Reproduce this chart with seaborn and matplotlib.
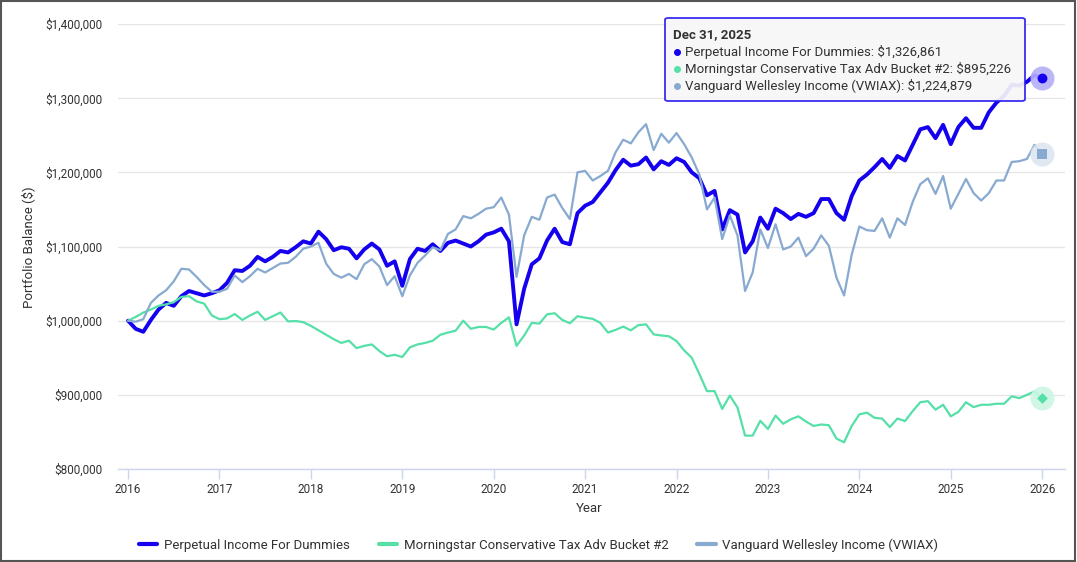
import matplotlib
matplotlib.use("Agg")
import matplotlib.pyplot as plt
from matplotlib.lines import Line2D
from matplotlib.patches import FancyBboxPatch, Rectangle
from matplotlib.ticker import FuncFormatter
import seaborn as sns
import numpy as np
import pandas as pd

# month-end balances in thousands of dollars, Dec 2015 .. Dec 2025
perpetual = [
    1000, 989, 985, 1001, 1015, 1024, 1020, 1033, 1040, 1037, 1034, 1037,
    1041, 1051, 1068, 1067, 1074, 1086, 1080, 1086, 1094, 1092, 1099, 1107,
    1104, 1120, 1110, 1095, 1099, 1097, 1084, 1096, 1104, 1096, 1074, 1080,
    1047, 1083, 1097, 1094, 1103, 1094, 1105, 1108, 1104, 1100, 1107, 1116,
    1119, 1124, 1107, 995, 1043, 1076, 1084, 1108, 1124, 1106, 1103, 1145,
    1155, 1160, 1173, 1186, 1203, 1217, 1209, 1211, 1220, 1204, 1215, 1210,
    1219, 1214, 1200, 1192, 1169, 1175, 1123, 1149, 1143, 1092, 1107, 1139,
    1124, 1151, 1145, 1137, 1144, 1140, 1145, 1164, 1164, 1145, 1136, 1168,
    1189, 1197, 1207, 1218, 1206, 1222, 1216, 1237, 1258, 1261, 1246, 1264,
    1238, 1261, 1273, 1260, 1260, 1281, 1294, 1303, 1318, 1317, 1322, 1331,
    1326.861,
]
morningstar = [
    1000, 1005, 1011, 1015, 1020, 1022, 1025, 1032, 1033, 1026, 1023, 1007,
    1002, 1003, 1009, 1001, 1007, 1012, 1001, 1006, 1011, 999, 999.5, 998,
    993, 987, 981, 975, 970, 973, 963, 966, 968, 959, 952, 954,
    951, 964, 968, 970, 973, 981, 984, 986.5, 1000, 989, 991.5, 991.5,
    988, 997, 1004.5, 966, 980, 997, 996, 1008.5, 1010, 1001, 996.5, 1006,
    1004, 1002.5, 997, 984, 987.5, 992, 987, 994, 995, 981.5, 980, 979,
    972.5, 960, 950, 928, 905, 905, 881, 899, 883, 845, 845, 865,
    854, 872, 861, 867, 871, 864, 858, 860, 859, 841, 836, 858,
    873.6, 876, 869, 868, 856.5, 868, 864.6, 878, 890, 891.5, 880, 886.6,
    871, 877, 890, 883.4, 886.6, 886.6, 888, 888, 898, 895.5, 900, 904.5,
    895.226,
]
wellesley = [
    1000, 998.6, 1002, 1024, 1034, 1041, 1053, 1070, 1069, 1059, 1048, 1039,
    1039, 1043, 1061, 1052, 1060, 1070, 1065, 1071, 1077, 1078, 1086, 1097,
    1100, 1105, 1077, 1063, 1058, 1063, 1056, 1076, 1083, 1073, 1048, 1060,
    1033, 1061, 1078, 1088, 1099, 1095, 1117, 1123, 1141, 1138, 1144, 1151,
    1153, 1166, 1143, 1059, 1115, 1140, 1136, 1166, 1170, 1152, 1137, 1200,
    1202, 1189, 1195, 1202, 1227, 1244, 1239, 1254, 1265, 1230, 1252, 1240,
    1253, 1238, 1220, 1197, 1150, 1166, 1110, 1142, 1115, 1040, 1065, 1123,
    1098, 1130, 1096, 1100, 1112, 1087, 1097, 1115, 1101, 1058, 1034, 1089,
    1127, 1122, 1121, 1138, 1112, 1138, 1129, 1160, 1184, 1192, 1171, 1195,
    1151, 1171, 1191, 1172, 1162, 1172, 1189, 1189, 1214, 1215, 1218, 1237,
    1224.879,
]

names = ["Perpetual Income For Dummies",
         "Morningstar Conservative Tax Adv Bucket #2",
         "Vanguard Wellesley Income (VWIAX)"]
colors = ["#1400ee", "#55e0a8", "#88a9d0"]
widths = [2.8, 1.6, 1.6]
year_ticks = list(range(2016, 2027))
tooltip_date = "Dec 31, 2025"

W, H = 1077, 562


def fx(px):
    return px / W


def fy(py):
    return 1 - py / H


years = 2016 + np.arange(len(perpetual)) / 12
frames = []
for name, vals in zip(names, [perpetual, morningstar, wellesley]):
    frames.append(pd.DataFrame({"Year": years,
                                "Balance": np.array(vals) * 1000,
                                "Portfolio": name}))
df = pd.concat(frames, ignore_index=True)

sns.set_theme(style="white")
plt.rcParams['font.family'] = ['Roboto', 'DejaVu Sans']

fig = plt.figure(figsize=(W / 100, H / 100), dpi=100)
ax = fig.add_axes([fx(118), fy(469), fx(947), 445 / H])

sns.lineplot(data=df, x="Year", y="Balance", hue="Portfolio", size="Portfolio",
             palette=dict(zip(names, colors)), sizes=dict(zip(names, widths)),
             hue_order=names, legend=False, ax=ax)

ax.set_xlim(2015.89, 2026.25)
ax.set_ylim(800000, 1400000)
ax.set_xticks(year_ticks)
ax.set_yticks(np.arange(800000, 1400001, 100000))
ax.yaxis.set_major_formatter(FuncFormatter(lambda v, p: f"${v:,.0f}"))
ax.set_xlabel("")
ax.set_ylabel("")
ax.yaxis.grid(True, color="#e6e6e6", lw=1)
ax.xaxis.grid(False)
for s in ["left", "right", "top"]:
    ax.spines[s].set_visible(False)
ax.spines["bottom"].set_color("#ccd6eb")
ax.spines["bottom"].set_linewidth(1)
ax.tick_params(axis="x", direction="out", length=7, width=1, color="#ccd6eb",
               labelsize=8.5, labelcolor="#333333", pad=3, bottom=True)
ax.tick_params(axis="y", length=0, labelsize=8.5, labelcolor="#333333", pad=11)

# end-point markers with hover halos
ends = [perpetual[-1], morningstar[-1], wellesley[-1]]
halo = ["#b4b0f7", "#cdf5e4", "#dde6f1"]
marks = ["o", "D", "s"]
msize = [50, 30, 45]
for v, c, h, m, s in zip(ends, colors, halo, marks, msize):
    ax.scatter([2026], [v * 1000], s=300, color=h, alpha=0.9, zorder=5, linewidths=0)
    ax.scatter([2026], [v * 1000], s=s, color=c, marker=m, zorder=6, linewidths=0)

fig.text(fx(28), fy(247), "Portfolio Balance ($)", rotation=90, ha="center",
         va="center", fontsize=9.5, color="#333333")
fig.text(fx(589), fy(508), "Year", ha="center", va="center", fontsize=9.5,
         color="#333333")

handles = [Line2D([0], [0], color=c, lw=3) for c in colors]
fig.legend(handles, names, loc="center", bbox_to_anchor=(0.5, fy(545)), ncol=3,
           frameon=False, handlelength=1.4, handletextpad=0.5, columnspacing=2.2,
           fontsize=9.5, labelcolor="#333333")

# tooltip
box = FancyBboxPatch((fx(665), fy(101)), fx(360), 83 / H,
                     boxstyle="round,pad=0,rounding_size=0.003",
                     transform=fig.transFigure, facecolor="#f7f7f7", alpha=0.92,
                     edgecolor="#2a1cf0", lw=1.3, zorder=10)
fig.patches.append(box)
fig.text(fx(673), fy(35), tooltip_date, ha="left", va="center", fontsize=9.5,
         fontweight="bold", color="#333333", zorder=11)
for k, (name, v, c) in enumerate(zip(names, ends, colors)):
    yy = fy(52 + 17 * k)
    fig.add_artist(Line2D([fx(677)], [yy], marker="o", ms=4, color=c,
                          transform=fig.transFigure, zorder=11))
    fig.text(fx(685), yy, f"{name}: ${v * 1000:,.0f}", ha="left", va="center",
             fontsize=9.5, color="#333333", zorder=11)

fig.patches.append(Rectangle((0.0005, 0.001), 0.998, 0.997, fill=False,
                             edgecolor="#555555", lw=1.5,
                             transform=fig.transFigure))

fig.savefig("out.png", dpi=100, facecolor="white")
